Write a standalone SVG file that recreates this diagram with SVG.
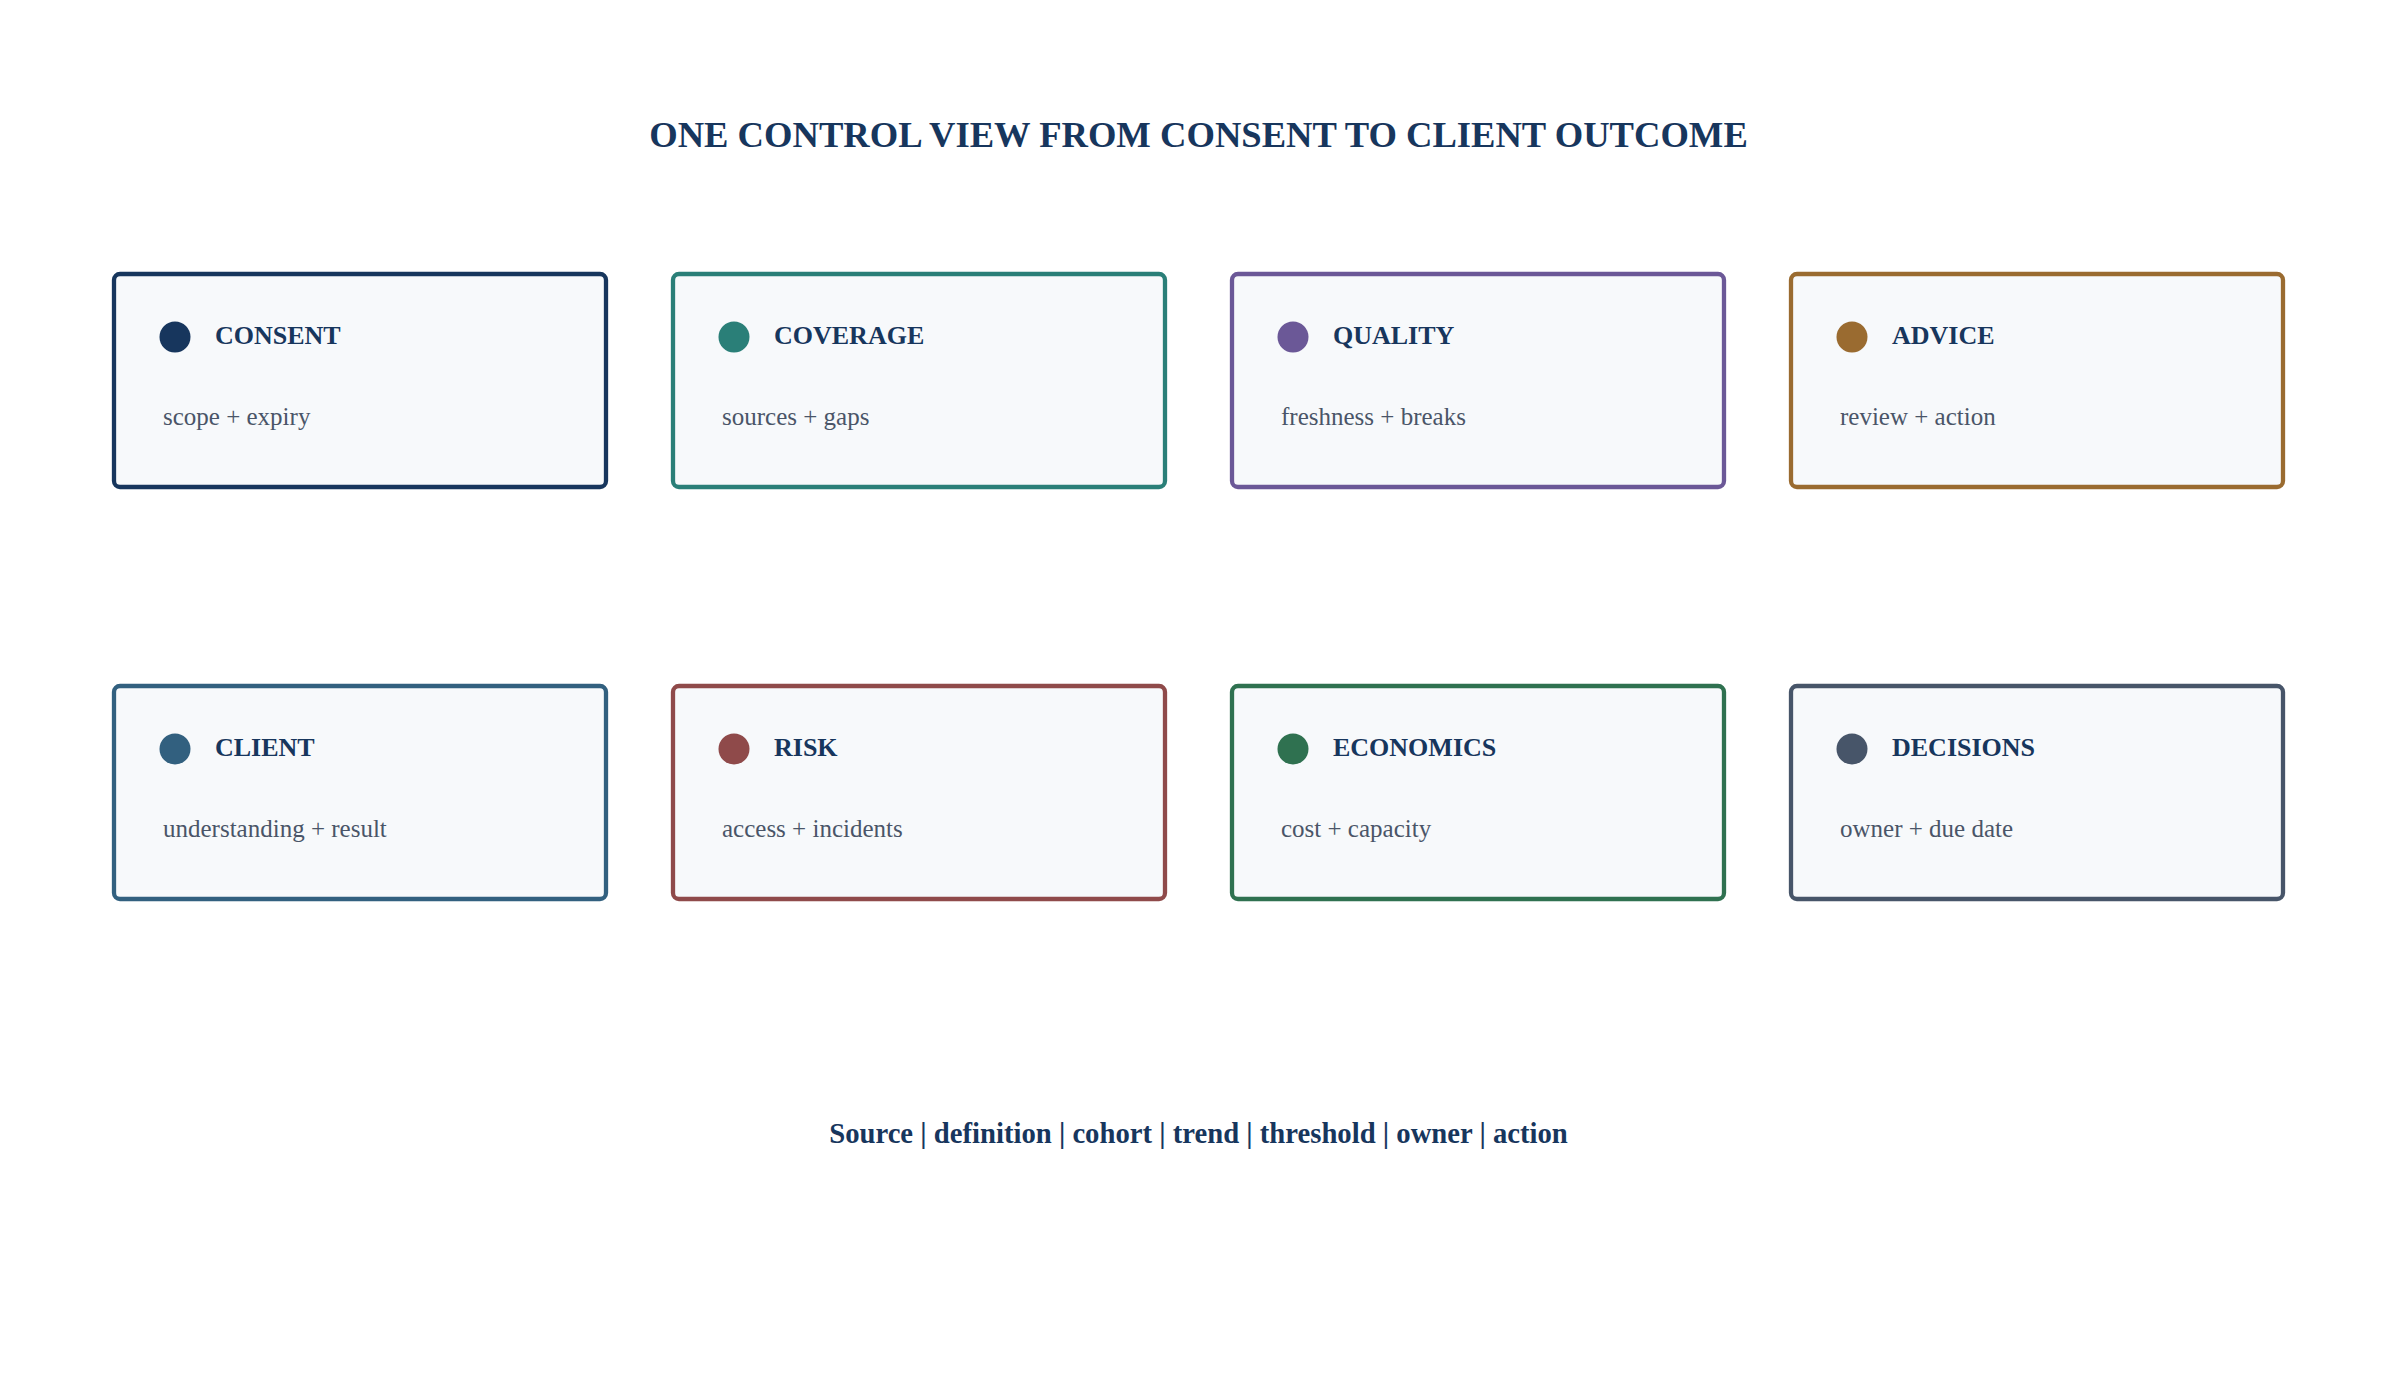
<svg xmlns="http://www.w3.org/2000/svg" width="2397" height="1385" viewBox="0 0 2397 1385">
<style>
.card{fill:#f7f9fb;stroke-width:4.3}
.h{font-family:"Liberation Serif","Times New Roman",serif;font-weight:bold;font-size:26px;fill:#17365d}
.s{font-family:"Liberation Serif","Times New Roman",serif;font-size:25px;fill:#4a5568}
.t{font-family:"Liberation Serif","Times New Roman",serif;font-weight:bold;fill:#17365d;text-anchor:middle}
</style>
<rect width="2397" height="1385" fill="#ffffff"/>
<text class="t" x="1198.5" y="147" font-size="36.6">ONE CONTROL VIEW FROM CONSENT TO CLIENT OUTCOME</text>
<g id="consent" transform="translate(114,274)"><rect class="card" width="492" height="213" rx="6" stroke="#17365d"/><circle cx="61" cy="63" r="15.5" fill="#17365d"/><text class="h" x="101" y="70">CONSENT</text><text class="s" x="49" y="151">scope + expiry</text></g>
<g id="coverage" transform="translate(673,274)"><rect class="card" width="492" height="213" rx="6" stroke="#2a7f78"/><circle cx="61" cy="63" r="15.5" fill="#2a7f78"/><text class="h" x="101" y="70">COVERAGE</text><text class="s" x="49" y="151">sources + gaps</text></g>
<g id="quality" transform="translate(1232,274)"><rect class="card" width="492" height="213" rx="6" stroke="#6b5897"/><circle cx="61" cy="63" r="15.5" fill="#6b5897"/><text class="h" x="101" y="70">QUALITY</text><text class="s" x="49" y="151">freshness + breaks</text></g>
<g id="advice" transform="translate(1791,274)"><rect class="card" width="492" height="213" rx="6" stroke="#9a6b30"/><circle cx="61" cy="63" r="15.5" fill="#9a6b30"/><text class="h" x="101" y="70">ADVICE</text><text class="s" x="49" y="151">review + action</text></g>
<g id="client" transform="translate(114,686)"><rect class="card" width="492" height="213" rx="6" stroke="#32607f"/><circle cx="61" cy="63" r="15.5" fill="#32607f"/><text class="h" x="101" y="70">CLIENT</text><text class="s" x="49" y="151">understanding + result</text></g>
<g id="risk" transform="translate(673,686)"><rect class="card" width="492" height="213" rx="6" stroke="#8f4a4a"/><circle cx="61" cy="63" r="15.5" fill="#8f4a4a"/><text class="h" x="101" y="70">RISK</text><text class="s" x="49" y="151">access + incidents</text></g>
<g id="economics" transform="translate(1232,686)"><rect class="card" width="492" height="213" rx="6" stroke="#2f7150"/><circle cx="61" cy="63" r="15.5" fill="#2f7150"/><text class="h" x="101" y="70">ECONOMICS</text><text class="s" x="49" y="151">cost + capacity</text></g>
<g id="decisions" transform="translate(1791,686)"><rect class="card" width="492" height="213" rx="6" stroke="#475569"/><circle cx="61" cy="63" r="15.5" fill="#475569"/><text class="h" x="101" y="70">DECISIONS</text><text class="s" x="49" y="151">owner + due date</text></g>
<g id="connectors"></g>
<text class="t" x="1198.5" y="1143" font-size="28.7">Source | definition | cohort | trend | threshold | owner | action</text>
</svg>
